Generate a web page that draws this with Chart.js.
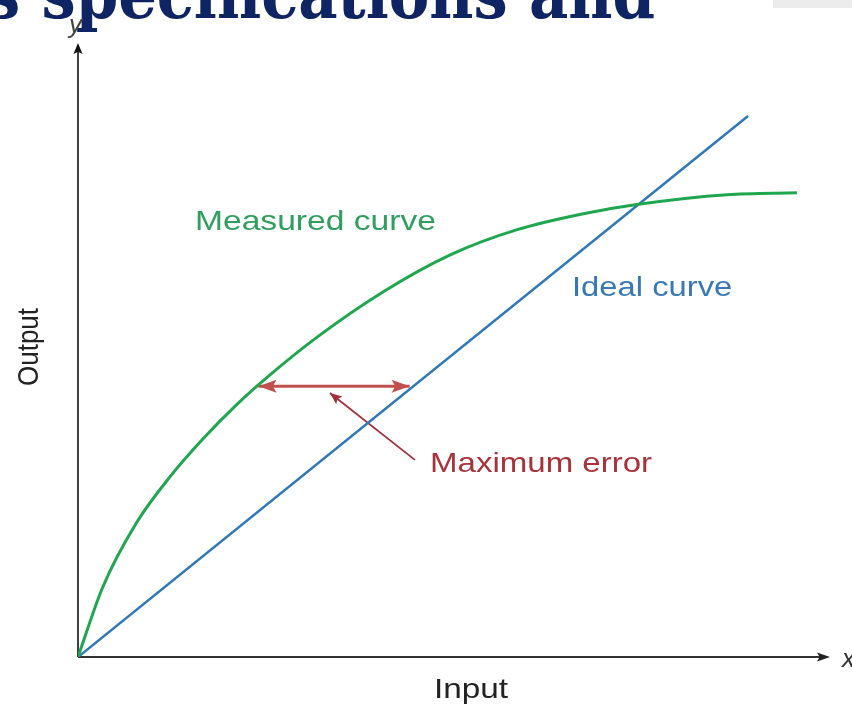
<!DOCTYPE html>
<html>
<head>
<meta charset="utf-8">
<script src="https://cdn.jsdelivr.net/npm/chart.js@4"></script>
<style>
	html, body { margin: 0; padding: 0; background: #fff; }
	#wrap { width: 852px; height: 705px; position: relative; }
</style>
</head>
<body>
<div id="wrap"><canvas id="errChart"></canvas></div>
<script>
// measured (green) curve
const measuredX = [0, 3.3, 7.8, 12.2, 16.6, 21.1, 25.1, 31.8, 40.6, 49.5, 58.4, 67.2, 74.3, 86.3, 95.6];
const measuredY = [0, 11.4, 21.9, 29.3, 35.5, 41.1, 45.5, 52.1, 59.5, 65.5, 69.6, 72.2, 73.7, 75.3, 75.6];
// ideal (blue) straight line
const idealX = [0, 89.1];
const idealY = [0, 88.1];
// maximum error span (double arrow) and the pointer to it
const errorX = [24.0, 44.1];
const errorY = [44.1, 44.1];
const pointerX = [44.8, 33.5];
const pointerY = [32.1, 43.0];

const toPoints = (xs, ys) => xs.map((x, i) => ({ x: x, y: ys[i] }));

function arrowHead(ctx, x1, y1, x2, y2, len, half, color) {
	const a = Math.atan2(y2 - y1, x2 - x1);
	ctx.save();
	ctx.translate(x2, y2);
	ctx.rotate(a);
	ctx.fillStyle = color;
	ctx.beginPath();
	ctx.moveTo(0, 0);
	ctx.lineTo(-len, -half);
	ctx.lineTo(-len * 0.8, 0);
	ctx.lineTo(-len, half);
	ctx.closePath();
	ctx.fill();
	ctx.restore();
}

function stretchText(ctx, text, x, y, sx, font, color) {
	ctx.save();
	ctx.font = font;
	ctx.fillStyle = color;
	ctx.textBaseline = "alphabetic";
	ctx.translate(x, y);
	ctx.scale(sx, 1);
	ctx.fillText(text, 0, 0);
	ctx.restore();
}

const decor = {
	id: "decor",
	beforeDatasetsDraw(chart) {
		const ctx = chart.ctx;
		const xs = chart.scales.x, ys = chart.scales.y;
		const ox = xs.getPixelForValue(0), oy = ys.getPixelForValue(0);
		const tipX = xs.getPixelForValue(100), tipY = ys.getPixelForValue(100);

		// title strip cut off at the top
		const tf = "bold 68px 'DejaVu Serif'";
		const t = "s specifications and";
		ctx.save();
		ctx.font = tf;
		const w = ctx.measureText(t).width;
		ctx.restore();
		stretchText(ctx, t, -14, 18, 669 / w, tf, "#0f2462");
		ctx.save();
		ctx.fillStyle = "#ececec";
		ctx.fillRect(773, 0, 79, 8);
		ctx.restore();

		ctx.save();
		ctx.lineWidth = 2;
		ctx.strokeStyle = "#333";
		ctx.beginPath();
		ctx.moveTo(ox, oy);
		ctx.lineTo(tipX - 8, oy);
		ctx.stroke();
		ctx.lineWidth = 1.6;
		ctx.strokeStyle = "#111";
		ctx.beginPath();
		ctx.moveTo(ox, oy);
		ctx.lineTo(ox, tipY + 8);
		ctx.stroke();
		ctx.restore();
		arrowHead(ctx, ox, oy, tipX, oy, 13, 4.5, "#222");
		arrowHead(ctx, ox, oy, ox, tipY, 11, 4.5, "#111");
	},
	afterDatasetsDraw(chart) {
		const ctx = chart.ctx;
		const xs = chart.scales.x, ys = chart.scales.y;
		const px = v => xs.getPixelForValue(v), py = v => ys.getPixelForValue(v);

		// double arrow heads
		const ex0 = px(errorX[0]), ex1 = px(errorX[1]), ey0 = py(errorY[0]), ey1 = py(errorY[1]);
		arrowHead(ctx, ex1, ey1, ex0, ey0, 18, 6.5, "#c0504d");
		arrowHead(ctx, ex0, ey0, ex1, ey1, 18, 6.5, "#c0504d");
		// pointer head
		arrowHead(ctx, px(pointerX[0]), py(pointerY[0]), px(pointerX[1]), py(pointerY[1]), 12, 5, "#a0303c");

		const f = "28px 'Liberation Sans'";
		stretchText(ctx, "Measured curve", 195, 230, 1.2, f, "#2f9e5f");
		stretchText(ctx, "Ideal curve", 572, 296, 1.17, f, "#3a78b5");
		stretchText(ctx, "Maximum error", 430, 472, 1.18, f, "#a8323a");
		stretchText(ctx, "Input", 434, 698, 1.19, f, "#222");
		stretchText(ctx, "y", 69, 33, 1, "italic 26px 'Liberation Sans'", "#444");
		stretchText(ctx, "x", 842, 667, 1, "italic 26px 'Liberation Sans'", "#333");

		ctx.save();
		ctx.translate(38, 347);
		ctx.scale(1.12, 1);
		ctx.rotate(-Math.PI / 2);
		ctx.font = "26px 'Liberation Sans'";
		ctx.fillStyle = "#222";
		ctx.textAlign = "center";
		ctx.fillText("Output", 0, 0);
		ctx.restore();
	}
};

new Chart(document.getElementById("errChart"), {
	type: "scatter",
	data: {
		datasets: [{
			label: "Measured curve",
			data: toPoints(measuredX, measuredY),
			showLine: true,
			borderColor: "#1fa64f",
			borderWidth: 3,
			pointRadius: 0,
			cubicInterpolationMode: "monotone"
		}, {
			label: "Ideal curve",
			data: toPoints(idealX, idealY),
			showLine: true,
			borderColor: "#2f77b6",
			borderWidth: 2.5,
			pointRadius: 0
		}, {
			label: "Maximum error",
			data: toPoints(errorX, errorY),
			showLine: true,
			borderColor: "#c0504d",
			borderWidth: 3,
			pointRadius: 0
		}, {
			label: "pointer",
			data: toPoints(pointerX, pointerY),
			showLine: true,
			borderColor: "#a0303c",
			borderWidth: 1.8,
			pointRadius: 0
		}]
	},
	options: {
		responsive: true,
		maintainAspectRatio: false,
		animation: false,
		layout: { padding: { left: 78, right: 22, top: 43, bottom: 48 } },
		scales: {
			x: { type: "linear", min: 0, max: 100, display: false },
			y: { type: "linear", min: 0, max: 100, display: false }
		},
		plugins: {
			legend: { display: false },
			tooltip: { enabled: false }
		}
	},
	plugins: [decor]
});
</script>
</body>
</html>
